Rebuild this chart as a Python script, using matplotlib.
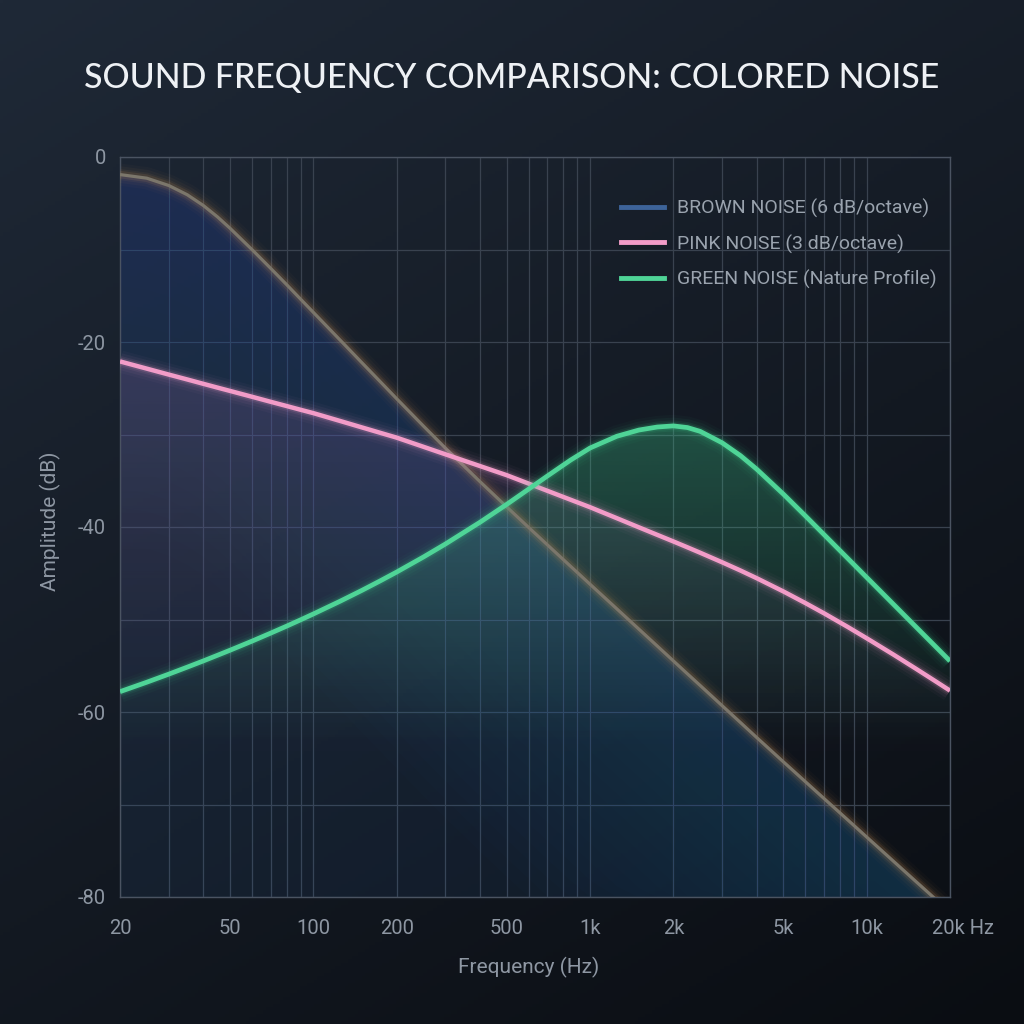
import numpy as np
import matplotlib
matplotlib.use("Agg")
import matplotlib.pyplot as plt
from matplotlib.colors import to_rgb
from matplotlib.patches import Polygon
from matplotlib.lines import Line2D
from matplotlib.ticker import FixedLocator, NullFormatter, LogLocator
from matplotlib.transforms import ScaledTranslation

# ---------------- data ----------------
freq = [20, 25, 30, 35, 40, 45, 50, 60, 70, 80, 90, 100, 125, 150, 175, 200, 250, 300,
        400, 500, 600, 700, 850, 1000, 1250, 1500, 1750, 2000, 2250, 2500, 3000, 3500,
        4000, 5000, 6000, 7000, 8500, 10000, 12500, 15000, 17500, 20000]
brown_db = [-1.9, -2.29, -3.08, -4.08, -5.24, -6.47, -7.71, -10.01, -12.02, -13.79,
            -15.38, -16.80, -19.80, -22.26, -24.33, -26.13, -29.09, -31.47, -35.09,
            -37.83, -40.05, -41.91, -44.24, -46.19, -48.85, -51.03, -52.87, -54.47,
            -55.88, -57.13, -59.31, -61.15, -62.75, -65.39, -67.53, -69.34, -71.61,
            -73.52, -76.14, -78.28, -80.08, -81.65]
pink_db = [-22.1, -22.88, -23.52, -24.05, -24.52, -24.93, -25.29, -25.92, -26.46, -26.92,
           -27.33, -27.69, -28.54, -29.24, -29.83, -30.34, -31.33, -32.14, -33.41, -34.40,
           -35.31, -36.08, -37.05, -37.86, -39.05, -40.03, -40.85, -41.56, -42.20, -42.78,
           -43.81, -44.71, -45.53, -46.97, -48.22, -49.32, -50.77, -52.03, -53.80, -55.29,
           -56.57, -57.69]
green_db = [-57.8, -56.78, -55.91, -55.15, -54.48, -53.87, -53.32, -52.34, -51.48, -50.72,
            -50.03, -49.40, -48.02, -46.84, -45.80, -44.87, -43.24, -41.84, -39.49, -37.55,
            -35.90, -34.50, -32.77, -31.46, -30.19, -29.52, -29.19, -29.07, -29.25, -29.66,
            -30.89, -32.29, -33.74, -36.45, -38.79, -40.80, -43.33, -45.45, -48.36, -50.74,
            -52.75, -54.49]

series_names = ["BROWN NOISE (6 dB/octave)", "PINK NOISE (3 dB/octave)",
                "GREEN NOISE (Nature Profile)"]
xtick_vals = [20, 50, 100, 200, 500, 1000, 2000, 5000, 10000, 20000]
xtick_labels = ["20", "50", "100", "200", "500", "1k", "2k", "5k", "10k", "20k Hz"]
ytick_vals = [0, -20, -40, -60, -80]
ytick_labels = ["0", "-20", "-40", "-60", "-80"]
title = "SOUND FREQUENCY COMPARISON: COLORED NOISE"
xlabel = "Frequency (Hz)"
ylabel = "Amplitude (dB)"

# ---------------- style ----------------
FONT = ["Roboto", "DejaVu Sans"]
TXT = "#8e97a3"
GRID = "#39424f"
YMIN = -80

fig = plt.figure(figsize=(10.24, 10.24), dpi=100)

# background gradient
bg = fig.add_axes([0, 0, 1, 1], zorder=-10)
bg.axis("off")
n = 300
yy, xx = np.mgrid[0:1:n * 1j, 0:1:n * 1j]
t = np.clip(0.45 * xx + 0.75 * yy, 0, None)
t = t / t.max()
c0 = np.array(to_rgb("#1f2937"))
c1 = np.array(to_rgb("#0a0d12"))
img = c0[None, None, :] * (1 - t[..., None]) + c1[None, None, :] * t[..., None]
bg.imshow(img, extent=[0, 1, 0, 1], aspect="auto", origin="upper")
bg.set_xlim(0, 1)
bg.set_ylim(0, 1)

ax = fig.add_axes([120 / 1024, 1 - 897 / 1024, 830 / 1024, 740 / 1024])
ax.set_facecolor("none")
ax.set_xscale("log")
f_arr = np.array(freq)


def grad_fill(y, color, a_top, a_bot, ytop, ybot, z):
    """vertical gradient (absolute y) clipped to the area under the curve"""
    verts = [(freq[0], YMIN)] + list(zip(freq, y)) + [(freq[-1], YMIN)]
    poly = Polygon(verts, closed=True, facecolor="none", edgecolor="none",
                   transform=ax.transData)
    ax.add_patch(poly)
    m = 256
    rgba = np.zeros((m, 2, 4))
    rgba[..., :3] = to_rgb(color)
    rgba[..., 3] = np.linspace(a_top, a_bot, m)[:, None]
    im = ax.imshow(rgba, extent=[20, 20000, ybot, ytop], aspect="auto",
                   origin="upper", zorder=z, interpolation="bilinear")
    im.set_clip_path(poly)


def band_fill(y, color, base_alpha, band_alpha, depth, steps, z):
    """gradient that is strongest right under the curve"""
    y = np.array(y)
    ax.fill_between(f_arr, y, YMIN, color=color, alpha=base_alpha, lw=0, zorder=z)
    for k in range(1, steps + 1):
        d = depth * k / steps
        ax.fill_between(f_arr, y, np.maximum(y - d, YMIN), color=color,
                        alpha=band_alpha, lw=0, zorder=z)


band_fill(brown_db, "#2d5f9a", 0.12, 0.02, 40, 20, 1)
grad_fill(pink_db, "#9a6ab0", 0.22, 0.0, -22, -66, 1.1)
grad_fill(green_db, "#3ecf8e", 0.30, 0.0, -29, -64, 1.2)


def glow_line(x, y, color, glow, lw, z):
    for w, a in [(16, 0.03), (12, 0.05), (8, 0.08), (5.5, 0.14)]:
        ax.plot(x, y, color=glow, lw=w, alpha=a, zorder=z, solid_capstyle="butt")
    ax.plot(x, y, color=color, lw=lw, zorder=z + 0.1, solid_capstyle="butt")


glow_line(freq, brown_db, "#7b766b", "#c08a52", 2.3, 3)
glow_line(freq, pink_db, "#f29cc8", "#f29cc8", 3.2, 4)
glow_line(freq, green_db, "#4fd497", "#3ecf8e", 3.4, 5)

ax.set_xlim(20, 20000)
ax.set_ylim(YMIN, 0)

# ticks & grid
ax.xaxis.set_major_locator(FixedLocator(xtick_vals))
ax.set_xticklabels(xtick_labels)
ax.xaxis.set_minor_locator(LogLocator(base=10, subs=np.arange(2, 10)))
ax.xaxis.set_minor_formatter(NullFormatter())
ax.set_yticks(ytick_vals)
ax.set_yticklabels(ytick_labels)
ax.yaxis.set_minor_locator(FixedLocator([-10, -30, -50, -70]))
ax.grid(which="both", color=GRID, lw=0.9, zorder=0)
ax.set_axisbelow(True)
ax.tick_params(which="both", length=0, colors=TXT, labelsize=14.5)
ax.tick_params(axis="x", pad=16)
ax.tick_params(axis="y", pad=10)
for lab in ax.get_xticklabels() + ax.get_yticklabels():
    lab.set_family(FONT)
xl = ax.get_xticklabels()[-1]
xl.set_horizontalalignment("left")
xl.set_transform(xl.get_transform() + ScaledTranslation(-18 / 100, 0, fig.dpi_scale_trans))
for s in ax.spines.values():
    s.set_color("#4a5361")
    s.set_linewidth(1.0)

# legend
handles = [Line2D([], [], color="#3d6399", lw=3.5),
           Line2D([], [], color="#f29cc8", lw=3.5),
           Line2D([], [], color="#4fd497", lw=3.5)]
leg = ax.legend(handles, series_names, loc="upper left",
                bbox_to_anchor=(621 / 1024, 1 - 199 / 1024),
                bbox_transform=fig.transFigure, frameon=False,
                prop={"family": FONT, "size": 14}, labelcolor="#9aa3ae",
                handlelength=2.2, handletextpad=0.7, labelspacing=0.83,
                borderpad=0, borderaxespad=0)

# texts
fig.text(0.5, 1 - 78 / 1024, title, ha="center", va="center", fontsize=24.4,
         color="#eef1f5", family=["Lato", "DejaVu Sans"], fontweight="medium")
fig.text(529 / 1024, 1 - 967 / 1024, xlabel, ha="center", va="center",
         fontsize=15, color=TXT, family=FONT)
fig.text(50 / 1024, 1 - 521 / 1024, ylabel, ha="center", va="center",
         fontsize=15, color=TXT, family=FONT, rotation=90)

fig.savefig("out.png", dpi=100, facecolor="#121820")
